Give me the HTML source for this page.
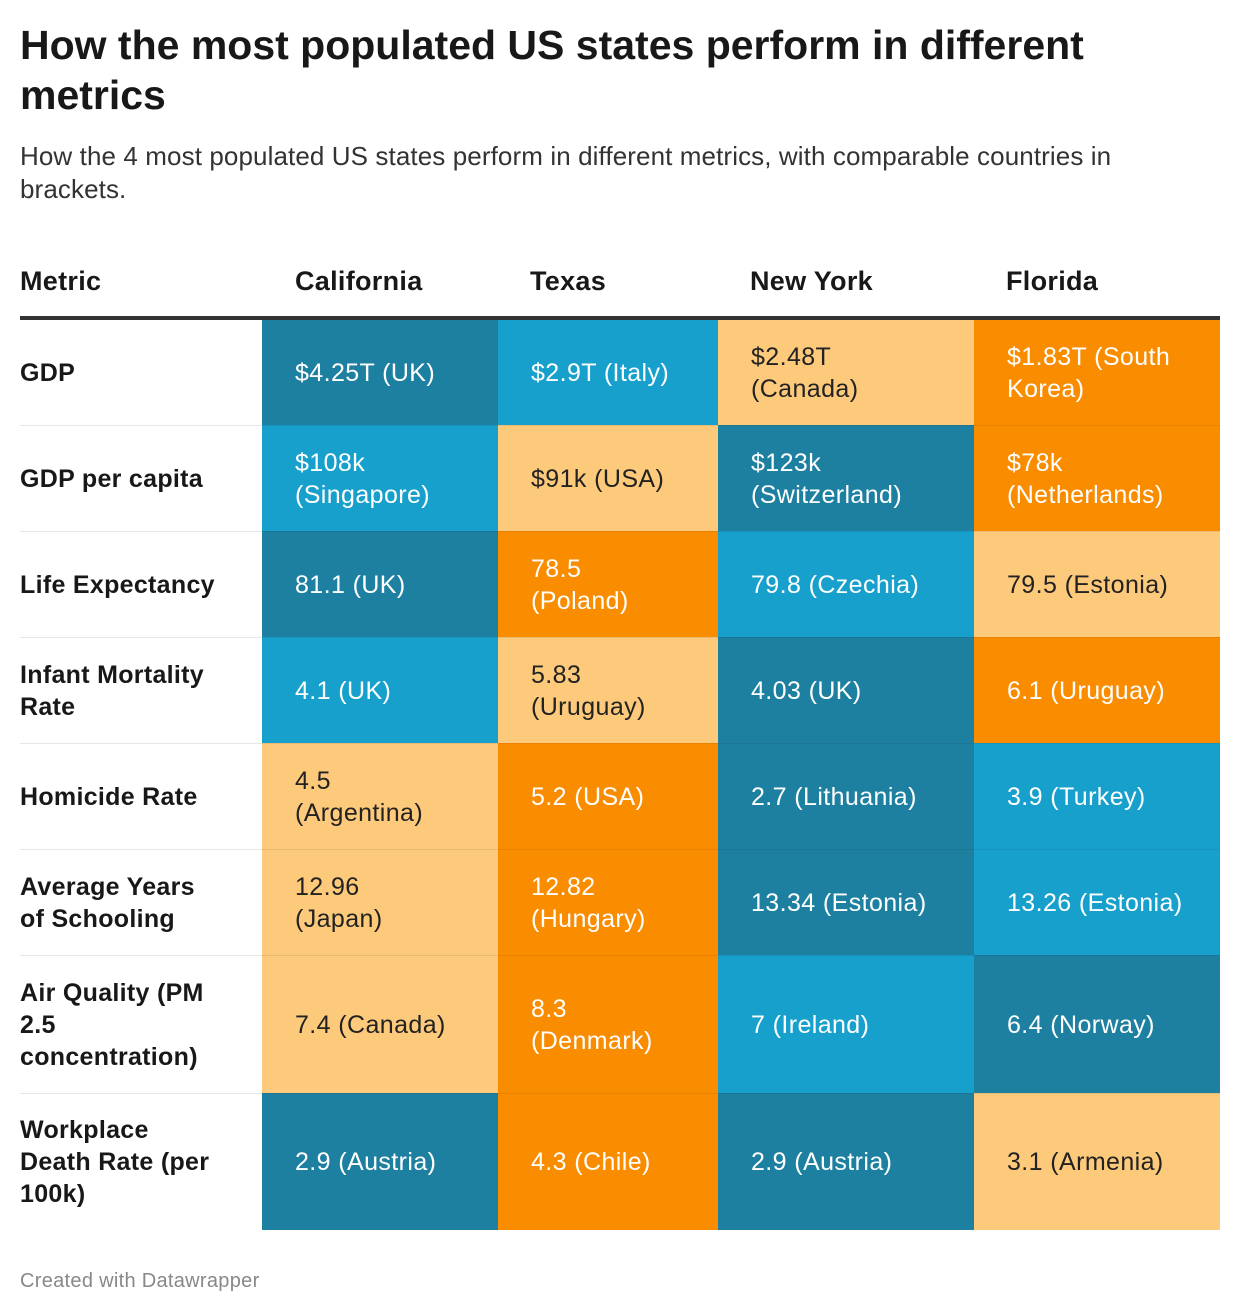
<!DOCTYPE html><html><head><style>
body{margin:0;width:1240px;height:1316px;background:#fff;font-family:"Liberation Sans",Arial,sans-serif;color:#181818;position:relative;overflow:hidden}
h1{position:absolute;left:20px;top:20px;margin:0;font-size:41px;line-height:50px;font-weight:bold;width:1110px;letter-spacing:0px}
.sub{position:absolute;left:20px;top:140px;font-size:26px;line-height:33px;color:#333;width:1185px;letter-spacing:0.1px}
.hd{position:absolute;top:264px;font-size:27px;font-weight:bold;line-height:34px;letter-spacing:0.3px}
.rule{position:absolute;left:20px;top:316px;width:1200px;height:4px;background:#333}
.c{position:absolute;box-sizing:border-box;padding-left:33px;display:flex;align-items:center;font-size:25px;line-height:32px;border-top:1px solid rgba(0,0,0,0.07);letter-spacing:0.4px}
.m{font-weight:bold;padding-left:0;border-top:1px solid #e6e6e6;letter-spacing:0.3px}
.D{background:#1e80a0;color:#fff}.B{background:#18a0cd;color:#fff}.L{background:#fdc97a;color:#222}.O{background:#fa8c00;color:#fff}
.foot{position:absolute;left:20px;top:1270px;font-size:20px;color:#888;letter-spacing:0.3px}
</style></head><body>
<h1>How the most populated US states perform in different metrics</h1>
<div class="sub">How the 4 most populated US states perform in different metrics, with comparable countries in brackets.</div>
<div class="hd" style="left:20px">Metric</div>
<div class="hd" style="left:295px">California</div>
<div class="hd" style="left:530px">Texas</div>
<div class="hd" style="left:750px">New York</div>
<div class="hd" style="left:1006px">Florida</div>
<div class="rule"></div>
<div id="t"></div>
<div class="foot">Created with Datawrapper</div>
<script>
var rows=[[320,425],[425,531],[531,637],[637,743],[743,849],[849,955],[955,1093],[1093,1230]];
var cols=[[20,262],[262,498],[498,718],[718,974],[974,1220]];
var data=[
["GDP","D$4.25T (UK)","B$2.9T (Italy)","L$2.48T<br>(Canada)","O$1.83T (South<br>Korea)"],
["GDP per capita","B$108k<br>(Singapore)","L$91k (USA)","D$123k<br>(Switzerland)","O$78k<br>(Netherlands)"],
["Life Expectancy","D81.1 (UK)","O78.5<br>(Poland)","B79.8 (Czechia)","L79.5 (Estonia)"],
["Infant Mortality<br>Rate","B4.1 (UK)","L5.83<br>(Uruguay)","D4.03 (UK)","O6.1 (Uruguay)"],
["Homicide Rate","L4.5<br>(Argentina)","O5.2 (USA)","D2.7 (Lithuania)","B3.9 (Turkey)"],
["Average Years<br>of Schooling","L12.96<br>(Japan)","O12.82<br>(Hungary)","D13.34 (Estonia)","B13.26 (Estonia)"],
["Air Quality (PM<br>2.5<br>concentration)","L7.4 (Canada)","O8.3<br>(Denmark)","B7 (Ireland)","D6.4 (Norway)"],
["Workplace<br>Death Rate (per<br>100k)","D2.9 (Austria)","O4.3 (Chile)","D2.9 (Austria)","L3.1 (Armenia)"]];
var h="";
data.forEach(function(r,i){var y=rows[i][0],hh=rows[i][1]-y;
r.forEach(function(v,j){var x=cols[j][0],w=cols[j][1]-x;
if(j==0)h+='<div class="c m" style="left:'+x+'px;top:'+y+'px;width:'+w+'px;height:'+hh+'px;'+(i==0?'border-top:none':'')+'"><div>'+v+'</div></div>';
else h+='<div class="c '+v[0]+'" style="left:'+x+'px;top:'+y+'px;width:'+w+'px;height:'+hh+'px;'+(i==0?'border-top:none':'')+'"><div>'+v.slice(1)+'</div></div>';});});
document.getElementById("t").innerHTML=h;
</script>
</body></html>
